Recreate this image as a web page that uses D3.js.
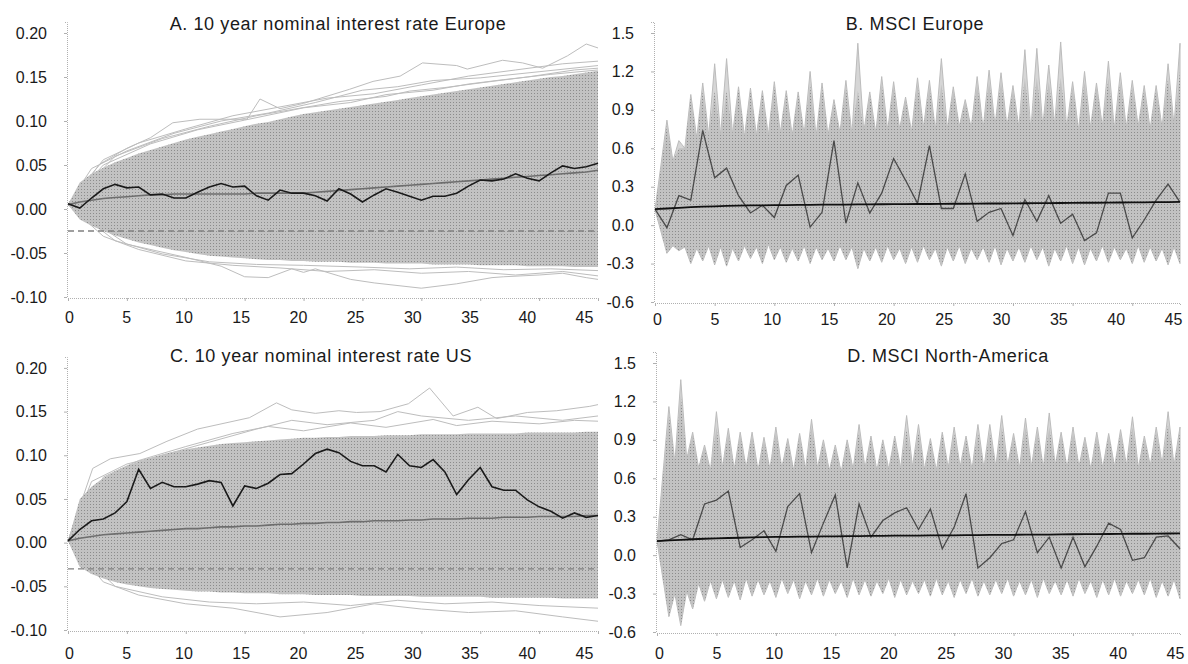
<!DOCTYPE html>
<html>
<head>
<meta charset="utf-8">
<script src="https://cdn.jsdelivr.net/npm/d3@7"></script>
<style>
  body { margin: 0; background: #fff; }
  text { font-family: "Liberation Sans", Arial, sans-serif; fill: #1a1a1a; }
</style>
</head>
<body>
<svg id="chart" width="1188" height="664"></svg>
<script>
// ---- data ----
const xTicks = [0, 5, 10, 15, 20, 25, 30, 35, 40, 45];
const rateTicks = [-0.10, -0.05, 0.00, 0.05, 0.10, 0.15, 0.20];
const msciTicks = [-0.6, -0.3, 0.0, 0.3, 0.6, 0.9, 1.2, 1.5];

// A. 10 year nominal interest rate Europe (t = 0..45)
const aReal = [0.006,0.001,0.0125,0.023,0.028,0.024,0.025,0.016,0.017,0.0125,
  0.0125,0.019,0.025,0.029,0.025,0.026,0.015,0.010,0.0215,0.018,
  0.018,0.015,0.009,0.023,0.017,0.008,0.016,0.023,0.019,0.0145,
  0.010,0.0145,0.0145,0.018,0.026,0.033,0.032,0.034,0.040,0.035,
  0.032,0.041,0.049,0.046,0.048,0.052];
const aMean = [0.005,0.008,0.010,0.012,0.013,0.014,0.015,0.016,0.016,0.017,
  0.017,0.017,0.017,0.017,0.017,0.017,0.018,0.018,0.018,0.018,
  0.018,0.019,0.020,0.021,0.022,0.023,0.024,0.025,0.026,0.027,
  0.028,0.029,0.030,0.031,0.032,0.033,0.034,0.035,0.036,0.037,
  0.038,0.039,0.040,0.041,0.042,0.044];
const aUpper = [0.005,0.030,0.040,0.047,0.053,0.058,0.063,0.067,0.071,0.075,
  0.079,0.082,0.085,0.088,0.091,0.094,0.097,0.099,0.102,0.105,
  0.108,0.110,0.112,0.114,0.116,0.118,0.120,0.122,0.124,0.126,
  0.128,0.130,0.132,0.134,0.136,0.138,0.140,0.142,0.144,0.146,
  0.148,0.150,0.151,0.153,0.155,0.157];
const aLower = [0.005,-0.012,-0.019,-0.025,-0.030,-0.034,-0.038,-0.041,-0.044,-0.047,
  -0.049,-0.051,-0.053,-0.054,-0.055,-0.056,-0.057,-0.058,-0.058,-0.059,
  -0.059,-0.060,-0.060,-0.060,-0.061,-0.061,-0.061,-0.062,-0.062,-0.062,
  -0.062,-0.063,-0.063,-0.063,-0.063,-0.064,-0.064,-0.064,-0.064,-0.065,
  -0.065,-0.065,-0.065,-0.066,-0.066,-0.066];
const aOutliers = [
  [[0,0.005],[2.7,0.051],[5,0.069],[7,0.081],[8.9,0.098],[11.2,0.102],[15.2,0.102],[16.3,0.125],[18,0.114],[20,0.12],
   [23.9,0.136],[25.9,0.145],[28.2,0.151],[30.1,0.166],[33,0.163],[33.9,0.159],[36.9,0.169],[38.6,0.166],[40.3,0.160],[42.4,0.174],[44,0.1875],[45,0.183]],
  [[0,0.005],[3,0.056],[6,0.075],[10,0.091],[14,0.106],[18,0.116],[22,0.126],[26,0.131],[30,0.141],[34,0.151],[38,0.158],[42,0.165],[45,0.168]],
  [[0,0.005],[2,0.046],[5,0.066],[9,0.086],[13,0.100],[17,0.109],[21,0.121],[25,0.135],[28,0.139],[31,0.146],[35,0.149],[40,0.156],[45,0.163]],
  [[0,0.005],[4,0.060],[8,0.080],[12,0.094],[16,0.106],[19,0.113],[23,0.122],[27,0.128],[29,0.134],[32,0.138],[36,0.145],[39,0.150],[43,0.158],[45,0.160]],
  [[0,0.005],[3,0.050],[7,0.074],[11,0.090],[15,0.101],[20,0.115],[24,0.121],[27,0.130],[31,0.135],[34,0.142],[37,0.147],[41,0.153],[45,0.158]],
  [[0,0.005],[5,-0.040],[10,-0.055],[13,-0.065],[15,-0.077],[17,-0.078],[19,-0.068],[20,-0.072],[21,-0.068],[23,-0.076],
   [24,-0.080],[26,-0.084],[30,-0.090],[33,-0.085],[36,-0.078],[37,-0.077],[40,-0.075],[42,-0.073],[44,-0.078],[45,-0.080]],
  [[0,0.005],[3,-0.031],[6,-0.046],[10,-0.059],[14,-0.064],[18,-0.067],[22,-0.071],[26,-0.069],[30,-0.073],[34,-0.071],[38,-0.075],[42,-0.071],[45,-0.076]],
  [[0,0.005],[4,-0.036],[8,-0.051],[12,-0.060],[16,-0.063],[20,-0.064],[25,-0.066],[29,-0.068],[33,-0.066],[37,-0.069],[41,-0.068],[45,-0.070]]
];
const aLimit = -0.025;

// C. 10 year nominal interest rate US (t = 0..45)
const cReal = [0.002,0.015,0.025,0.027,0.034,0.047,0.084,0.062,0.069,0.064,
  0.064,0.067,0.071,0.069,0.042,0.065,0.062,0.068,0.078,0.079,
  0.090,0.102,0.107,0.103,0.093,0.088,0.088,0.081,0.101,0.088,
  0.086,0.095,0.081,0.055,0.072,0.086,0.064,0.060,0.060,0.049,
  0.041,0.036,0.028,0.034,0.029,0.031];
const cMean = [0.002,0.005,0.007,0.009,0.010,0.011,0.012,0.013,0.014,0.015,
  0.016,0.016,0.017,0.018,0.018,0.019,0.019,0.020,0.021,0.021,
  0.022,0.022,0.023,0.023,0.024,0.024,0.025,0.025,0.025,0.026,
  0.026,0.027,0.027,0.027,0.028,0.028,0.028,0.029,0.029,0.029,
  0.030,0.030,0.030,0.030,0.031,0.031];
const cUpper = [0.002,0.050,0.064,0.074,0.082,0.088,0.093,0.097,0.101,0.104,
  0.107,0.109,0.111,0.113,0.114,0.115,0.116,0.117,0.118,0.119,
  0.120,0.120,0.121,0.121,0.122,0.122,0.122,0.123,0.123,0.123,
  0.124,0.124,0.124,0.124,0.125,0.125,0.125,0.125,0.125,0.126,
  0.126,0.126,0.126,0.126,0.127,0.127];
const cLower = [0.002,-0.028,-0.036,-0.041,-0.045,-0.048,-0.050,-0.052,-0.053,-0.054,
  -0.055,-0.056,-0.056,-0.057,-0.057,-0.058,-0.058,-0.058,-0.059,-0.059,
  -0.059,-0.060,-0.060,-0.060,-0.060,-0.061,-0.061,-0.061,-0.061,-0.061,
  -0.062,-0.062,-0.062,-0.062,-0.062,-0.062,-0.063,-0.063,-0.063,-0.063,
  -0.063,-0.063,-0.064,-0.064,-0.064,-0.064];
const cOutliers = [
  [[0,0.002],[2.1,0.085],[3.6,0.096],[6.1,0.102],[8.4,0.116],[11,0.130],[15.4,0.143],[17.7,0.160],[19,0.152],[21,0.148],
   [23,0.151],[24.5,0.149],[26.5,0.150],[28.9,0.159],[30.7,0.177],[32.7,0.145],[34.8,0.155],[36.4,0.142],[39,0.149],[41.5,0.151],[44.3,0.156],[45,0.158]],
  [[0,0.002],[2,0.070],[5,0.090],[8,0.100],[12,0.115],[16,0.130],[19,0.140],[22,0.135],[26,0.140],[28,0.150],[30,0.145],[34,0.140],[38,0.145],[42,0.140],[45,0.145]],
  [[0,0.002],[3,0.075],[6,0.094],[10,0.110],[14,0.125],[17,0.133],[20,0.128],[24,0.137],[27,0.132],[31,0.141],[33,0.134],[36,0.139],[40,0.136],[43,0.140],[45,0.139]],
  [[0,0.002],[3,-0.045],[6,-0.060],[10,-0.070],[14,-0.075],[18,-0.085],[22,-0.080],[26,-0.070],[30,-0.076],[34,-0.080],[38,-0.078],[42,-0.085],[45,-0.090]],
  [[0,0.002],[4,-0.050],[8,-0.062],[12,-0.068],[16,-0.070],[20,-0.068],[24,-0.072],[28,-0.066],[32,-0.070],[36,-0.068],[40,-0.072],[45,-0.075]]
];
const cLimit = -0.030;

// B. MSCI Europe (t = 0..44)
const bReal = [0.125,-0.02,0.23,0.195,0.74,0.37,0.445,0.23,0.095,0.155,
  0.06,0.31,0.39,-0.015,0.10,0.66,0.015,0.33,0.095,0.25,
  0.52,0.35,0.17,0.62,0.13,0.13,0.40,0.03,0.10,0.13,
  -0.08,0.20,0.03,0.23,0.015,0.085,-0.12,-0.06,0.25,0.25,
  -0.10,0.04,0.195,0.32,0.18];
const bMean = [0.125,0.130,0.135,0.140,0.144,0.147,0.150,0.152,0.154,0.155,
  0.156,0.157,0.158,0.159,0.160,0.160,0.161,0.162,0.162,0.163,
  0.164,0.164,0.165,0.165,0.166,0.167,0.167,0.168,0.169,0.169,
  0.170,0.171,0.172,0.172,0.173,0.174,0.175,0.175,0.176,0.177,
  0.178,0.178,0.179,0.180,0.181];
const bOuterPeak = [0.12,0.82,0.66,1.02,1.11,1.26,1.30,1.08,1.07,1.05,
  1.12,1.05,1.04,1.20,1.11,0.98,1.13,1.42,1.04,1.16,
  1.12,1.00,1.15,1.13,1.30,1.08,0.98,1.16,1.21,1.19,
  1.09,1.37,1.38,1.25,1.43,1.12,1.20,1.11,1.28,1.19,
  1.13,1.09,1.09,1.26,1.42];
const bDensePeak = [0.12,0.78,0.60,1.00,1.05,1.05,1.05,1.06,1.05,1.03,
  1.08,1.03,1.02,1.10,1.08,0.96,1.08,1.05,1.02,1.10,
  1.08,0.98,1.10,1.08,1.10,1.05,0.96,1.10,1.12,1.12,
  1.06,1.15,1.15,1.12,1.15,1.08,1.12,1.08,1.15,1.12,
  1.08,1.06,1.06,1.15,1.20];
const bUpperDip = [0.50,0.60,0.68,0.70,0.70,0.71,0.69,0.70,0.70,0.72,
  0.70,0.71,0.69,0.70,0.72,0.71,0.73,0.72,0.74,0.75,
  0.73,0.76,0.74,0.75,0.77,0.76,0.75,0.78,0.77,0.76,
  0.74,0.77,0.78,0.76,0.74,0.76,0.77,0.75,0.76,0.77,
  0.75,0.76,0.78];
const bLowerPeak = [0.12,-0.22,-0.20,-0.30,-0.28,-0.31,-0.32,-0.28,-0.26,-0.30,
  -0.27,-0.29,-0.28,-0.30,-0.27,-0.28,-0.27,-0.34,-0.28,-0.29,
  -0.27,-0.30,-0.29,-0.27,-0.32,-0.28,-0.30,-0.27,-0.29,-0.31,
  -0.28,-0.29,-0.27,-0.32,-0.28,-0.30,-0.31,-0.28,-0.29,-0.27,
  -0.30,-0.29,-0.28,-0.31,-0.30];
const bLowerDip = [-0.16,-0.17,-0.18,-0.16,-0.17,-0.18,-0.16,-0.17,-0.15,-0.17,
  -0.18,-0.16,-0.17,-0.18,-0.16,-0.17,-0.18,-0.17,-0.16,-0.18,
  -0.17,-0.16,-0.18,-0.17,-0.16,-0.18,-0.17,-0.16,-0.18,-0.17,
  -0.16,-0.17,-0.18,-0.16,-0.17,-0.18,-0.16,-0.17,-0.18,-0.16,
  -0.17,-0.18,-0.17];

// D. MSCI North-America (t = 0..44)
const dReal = [0.11,0.12,0.16,0.12,0.40,0.43,0.50,0.06,0.12,0.19,
  0.03,0.38,0.48,0.02,0.25,0.47,-0.10,0.40,0.14,0.27,
  0.33,0.37,0.20,0.36,0.05,0.22,0.48,-0.10,-0.02,0.09,
  0.12,0.34,0.02,0.14,-0.10,0.14,-0.09,0.07,0.25,0.20,
  -0.04,-0.02,0.14,0.15,0.05];
const dMean = [0.110,0.115,0.120,0.124,0.128,0.131,0.134,0.136,0.138,0.140,
  0.142,0.143,0.144,0.145,0.146,0.147,0.148,0.149,0.150,0.151,
  0.152,0.152,0.153,0.154,0.155,0.155,0.156,0.157,0.158,0.158,
  0.159,0.160,0.161,0.161,0.162,0.163,0.164,0.164,0.165,0.166,
  0.167,0.167,0.168,0.169,0.170];
const dOuterPeak = [0.11,1.16,1.37,0.96,0.86,1.12,0.99,0.96,0.96,0.92,
  1.00,0.91,0.95,1.06,0.90,0.86,0.90,1.02,0.93,0.90,
  0.93,1.09,1.02,0.91,0.96,1.00,0.93,1.02,1.02,1.09,
  0.95,1.07,1.00,1.11,0.96,1.00,0.92,0.96,0.95,0.98,
  1.08,0.93,1.00,1.12,1.00];
const dDensePeak = [0.11,1.10,1.25,0.94,0.84,1.00,0.95,0.94,0.94,0.90,
  0.96,0.90,0.93,1.00,0.88,0.85,0.88,0.96,0.91,0.88,
  0.91,0.98,0.96,0.89,0.94,0.95,0.91,0.96,0.96,1.00,
  0.93,1.00,0.96,1.00,0.94,0.96,0.90,0.93,0.93,0.95,
  1.00,0.91,0.96,1.02,0.96];
const dUpperDip = [0.72,0.75,0.68,0.66,0.68,0.67,0.68,0.66,0.67,0.68,
  0.66,0.67,0.68,0.66,0.65,0.67,0.68,0.66,0.67,0.68,
  0.69,0.67,0.66,0.68,0.69,0.67,0.68,0.69,0.70,0.68,
  0.69,0.68,0.70,0.68,0.69,0.67,0.68,0.69,0.70,0.68,
  0.70,0.71,0.70];
const dLowerPeak = [0.11,-0.48,-0.55,-0.42,-0.36,-0.34,-0.33,-0.35,-0.32,-0.31,
  -0.33,-0.30,-0.34,-0.31,-0.32,-0.30,-0.33,-0.31,-0.32,-0.30,
  -0.33,-0.31,-0.30,-0.32,-0.31,-0.33,-0.30,-0.32,-0.31,-0.30,
  -0.32,-0.31,-0.33,-0.30,-0.31,-0.32,-0.30,-0.33,-0.31,-0.32,
  -0.30,-0.31,-0.33,-0.32,-0.34];
const dLowerDip = [-0.30,-0.28,-0.22,-0.20,-0.19,-0.20,-0.18,-0.19,-0.20,-0.18,
  -0.19,-0.20,-0.18,-0.19,-0.20,-0.18,-0.19,-0.20,-0.18,-0.19,
  -0.20,-0.19,-0.18,-0.20,-0.19,-0.18,-0.20,-0.19,-0.18,-0.20,
  -0.19,-0.18,-0.20,-0.19,-0.18,-0.20,-0.19,-0.18,-0.20,-0.19,
  -0.18,-0.20,-0.19];

// ---- layout ----
const panels = [
  { title: "A. 10 year nominal interest rate Europe", tx: 338, ty: 30, kind: "rate",
    xr: [68, 598], lab: [69, 584], yr: [297, 22], yd: [-0.10, 0.2125], xLabY: 312,
    real: aReal, mean: aMean, upper: aUpper, lower: aLower, outliers: aOutliers, limit: aLimit },
  { title: "B. MSCI Europe", tx: 915, ty: 30, kind: "msci",
    xr: [655, 1180], lab: [657, 1173], yr: [302, 22], yd: [-0.6, 1.586], xLabY: 314,
    real: bReal, mean: bMean, outer: bOuterPeak, dense: bDensePeak, dip: bUpperDip,
    lowPeak: bLowerPeak, lowDip: bLowerDip },
  { title: "C. 10 year nominal interest rate US", tx: 321, ty: 362, kind: "rate",
    xr: [68, 598], lab: [69, 584], yr: [630, 357], yd: [-0.10, 0.2125], xLabY: 648,
    real: cReal, mean: cMean, upper: cUpper, lower: cLower, outliers: cOutliers, limit: cLimit },
  { title: "D. MSCI North-America", tx: 948, ty: 362, kind: "msci",
    xr: [657, 1180], lab: [659, 1175], yr: [632, 352], yd: [-0.6, 1.586], xLabY: 648,
    real: dReal, mean: dMean, outer: dOuterPeak, dense: dDensePeak, dip: dUpperDip,
    lowPeak: dLowerPeak, lowDip: dLowerDip }
];

const svg = d3.select("#chart");

// dotted texture of the dense simulation cloud
const pat = svg.append("defs").append("pattern")
  .attr("id", "cloud").attr("patternUnits", "userSpaceOnUse")
  .attr("width", 3).attr("height", 3);
pat.append("rect").attr("width", 3).attr("height", 3).attr("fill", "#c2c2c2");
pat.append("rect").attr("width", 1).attr("height", 1).attr("fill", "#8c8c8c");

// envelope with a peak at each step and a dip half way between steps
function spiky(peaks, dips) {
  const pts = [[0, peaks[0]]];
  for (let i = 1; i < peaks.length; i++) {
    pts.push([i, peaks[i]]);
    if (i < peaks.length - 1) pts.push([i + 0.5, dips[i - 1]]);
  }
  return pts;
}

panels.forEach(p => {
  const n = p.real.length;
  const x = d3.scaleLinear().domain([0, n - 1]).range(p.xr);
  const xl = d3.scaleLinear().domain([0, 45]).range(p.lab);
  const y = d3.scaleLinear().domain(p.yd).range(p.yr);
  const g = svg.append("g");

  const line = d3.line().x(d => x(d[0])).y(d => y(d[1]));
  const series = arr => arr.map((v, i) => [i, v]);

  if (p.kind === "rate") {
    p.outliers.forEach(o => {
      g.append("path").attr("d", line(o))
        .attr("fill", "none").attr("stroke", "#bdbdbd").attr("stroke-width", 1);
    });
    const area = d3.area().x((d, i) => x(i)).y0((d, i) => y(p.lower[i])).y1(d => y(d));
    g.append("path").attr("d", area(p.upper)).attr("fill", "url(#cloud)");
    g.append("line")
      .attr("x1", x(0)).attr("x2", x(n - 1))
      .attr("y1", y(p.limit)).attr("y2", y(p.limit))
      .attr("stroke", "#808080").attr("stroke-width", 1.3).attr("stroke-dasharray", "6,4");
    g.append("path").attr("d", line(series(p.mean)))
      .attr("fill", "none").attr("stroke", "#6e6e6e").attr("stroke-width", 1.6);
    g.append("path").attr("d", line(series(p.real)))
      .attr("fill", "none").attr("stroke", "#1a1a1a").attr("stroke-width", 1.6);
  } else {
    const low = spiky(p.lowPeak, p.lowDip).reverse();
    const outer = spiky(p.outer, p.dip).concat(low);
    const dense = spiky(p.dense, p.dip).concat(low);
    g.append("path").attr("d", line(outer) + "Z")
      .attr("fill", "#d6d6d6").attr("stroke", "#bcbcbc").attr("stroke-width", 1);
    g.append("path").attr("d", line(dense) + "Z").attr("fill", "url(#cloud)");
    g.append("path").attr("d", line(series(p.real)))
      .attr("fill", "none").attr("stroke", "#4a4a4a").attr("stroke-width", 1.3);
    g.append("path").attr("d", line(series(p.mean)))
      .attr("fill", "none").attr("stroke", "#111").attr("stroke-width", 1.8);
  }

  // axes: light dotted lines with small ticks
  const fmt = p.kind === "rate" ? (d => d.toFixed(2)) : (d => d.toFixed(1));
  const yTicks = p.kind === "rate" ? rateTicks : msciTicks;
  const ya = g.append("g").attr("transform", `translate(${p.xr[0] - 1},0)`)
    .call(d3.axisLeft(y).tickValues(yTicks).tickSize(3).tickPadding(17).tickFormat(fmt));
  const xa = g.append("g").attr("transform", `translate(0,${y(p.yd[0]) + 1})`)
    .call(d3.axisBottom(x).tickValues(xTicks.filter(t => t <= n - 1)).tickSize(3).tickFormat(""));
  g.append("g").attr("transform", `translate(0,${p.xLabY})`)
    .call(d3.axisBottom(xl).tickValues(xTicks).tickSize(0).tickPadding(0))
    .call(s => s.select(".domain").remove());
  [ya, xa].forEach(a => {
    a.select(".domain").attr("stroke", "#b0b0b0").attr("stroke-dasharray", "1,1");
    a.selectAll(".tick line").attr("stroke", "#b0b0b0");
  });
  g.selectAll(".tick text").attr("font-size", 16).attr("fill", "#1a1a1a")
    .attr("font-family", "'Liberation Sans', Arial, sans-serif");

  g.append("text").attr("x", p.tx).attr("y", p.ty).attr("text-anchor", "middle")
    .attr("font-size", 18).attr("letter-spacing", 0.6).text(p.title);
});
</script>
</body>
</html>
